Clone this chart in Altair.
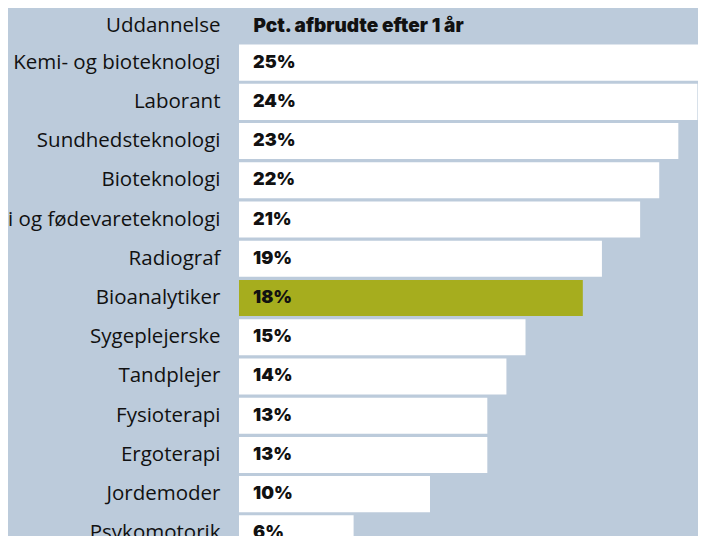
import altair as alt
import pandas as pd

categories = ["Kemi- og bioteknologi", "Laborant", "Sundhedsteknologi", "Bioteknologi",
              "Kemi og fødevareteknologi", "Radiograf", "Bioanalytiker", "Sygeplejerske",
              "Tandplejer", "Fysioterapi", "Ergoterapi", "Jordemoder", "Psykomotorik"]
values = [25, 24, 23, 22, 21, 19, 18, 15, 14, 13, 13, 10, 6]
highlight = [c == "Bioanalytiker" for c in categories]

df = pd.DataFrame({
    "Uddannelse": categories,
    "pct": values,
    "label": [f"{v}%" for v in values],
    "hl": highlight,
})

BG = "#bccbdb"
OLIVE = "#a6ad1e"
LABEL_FONT = "Open Sans"
BOLD_FONT = "Inter"

y_enc = alt.Y(
    "Uddannelse:N",
    sort=None,
    scale=alt.Scale(paddingInner=0.08, paddingOuter=0.04, rangeMax=510),
    axis=alt.Axis(
        title="Uddannelse", titleAngle=0, titleAlign="right", titleBaseline="middle",
        titleX=-19, titleY=-18, titleFont=LABEL_FONT, titleFontSize=20.5, titleFontWeight=500,
        titleColor="#111111",
        labelFont=LABEL_FONT, labelFontSize=20.5, labelFontWeight=500, labelColor="#111111",
        labelPadding=19, labelLimit=400, ticks=False, domain=False, grid=False,
    ),
)

x_enc = alt.X(
    "pct:Q",
    scale=alt.Scale(domain=[0, 24.03], nice=False),
    axis=alt.Axis(
        orient="top", title="Pct. afbrudte efter 1 år", titleAlign="left",
        titleBaseline="middle", titleX=14, titleY=-18, titleFont=BOLD_FONT,
        titleFontSize=19, titleFontWeight=900, titleColor="#111111",
        labels=False, ticks=False, domain=False, grid=False,
    ),
)

bars = alt.Chart(df).mark_bar(clip=True).encode(
    y=y_enc,
    x=x_enc,
    color=alt.condition("datum.hl", alt.value(OLIVE), alt.value("white")),
)

texts = alt.Chart(df).mark_text(
    align="left", baseline="middle", dx=14, font=BOLD_FONT, fontSize=18,
    fontWeight=900, color="#111111",
).encode(
    y=alt.Y("Uddannelse:N", sort=None),
    x=alt.datum(0),
    text="label:N",
)

chart = alt.layer(bars, texts).properties(
    width=459, height=493,
    padding={"left": 231, "top": 35, "right": 0, "bottom": 0},
    autosize=alt.AutoSizeParams(type="none"),
    background=BG,
).configure_view(stroke=None)

chart.save("out.html", embed_options={"renderer": "svg", "actions": False})
